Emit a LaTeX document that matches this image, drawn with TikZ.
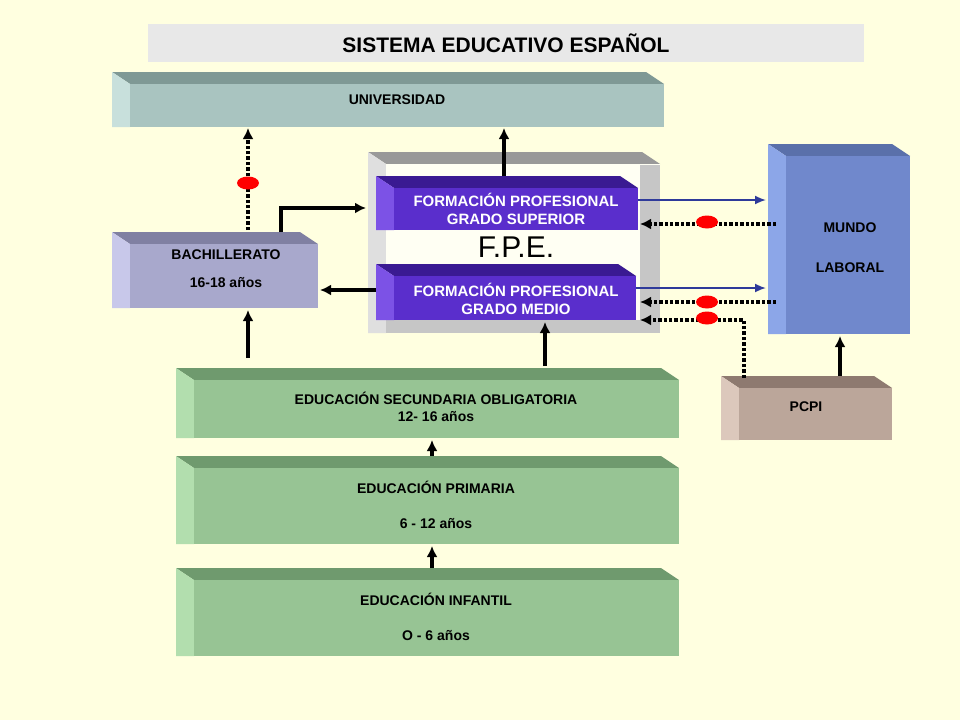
\documentclass[tikz,border=0pt]{standalone}
\usepackage{fontspec}
\setmainfont{Liberation Sans}
\usetikzlibrary{positioning, arrows.meta, shapes.geometric}

\definecolor{fondo}{HTML}{FFFFE0}
\definecolor{uniF}{HTML}{A9C4C0}\definecolor{uniT}{HTML}{7F9995}\definecolor{uniL}{HTML}{C8E0DC}
\definecolor{bacF}{HTML}{A8A8CC}\definecolor{bacT}{HTML}{8080A2}\definecolor{bacL}{HTML}{C8C8EA}
\definecolor{fpF}{HTML}{5A2ECC}\definecolor{fpT}{HTML}{3A1A92}\definecolor{fpL}{HTML}{7C52E6}
\definecolor{munF}{HTML}{7088CC}\definecolor{munT}{HTML}{5A70AA}\definecolor{munL}{HTML}{8CA6E8}
\definecolor{verF}{HTML}{97C494}\definecolor{verT}{HTML}{6F9A6E}\definecolor{verL}{HTML}{B2DEAE}
\definecolor{pcpF}{HTML}{BBA69A}\definecolor{pcpT}{HTML}{8E7A70}\definecolor{pcpL}{HTML}{DCC8BC}
\definecolor{flujo}{HTML}{2E3A9A}

% slab: x0,y0,x1,y1,front,top,left
\newcommand{\slab}[7]{%
  \fill[#6] (#1,#2) -- (#3-18,#2) -- (#3,#2+12) -- (#1+18,#2+12) -- cycle;
  \fill[#7] (#1,#2) -- (#1+18,#2+12) -- (#1+18,#4) -- (#1,#4) -- cycle;
  \fill[#5] (#1+18,#2+12) rectangle (#3,#4);
}

\tikzset{
  label/.style={font=\fontsize{14}{16}\selectfont\bfseries, align=center},
  fplabel/.style={label, text=white, font=\fontsize{15}{18}\selectfont\bfseries},
  paso/.style={line width=3.4pt, -{Latex[length=11pt,width=11pt]}},
  puerta/.style={line width=3.4pt, dotted, -{Latex[length=11pt,width=11pt]}},
  salida/.style={line width=1.8pt, flujo, -{Latex[length=11pt,width=9pt]}},
  nota/.style={fill=red, ellipse, minimum width=22pt, minimum height=13pt, inner sep=0pt}
}

\begin{document}
\begin{tikzpicture}[x=1pt, y=-1pt]
  \useasboundingbox (0,0) rectangle (960,720);
  \fill[fondo] (0,0) rectangle (960,720);

  % titulo
  \fill[gray!18] (148,24) rectangle (864,62);
  \node[font=\fontsize{21}{24}\selectfont\bfseries] (titulo) at (506,43) {SISTEMA EDUCATIVO ESPAÑOL};

  % bloques
  \slab{112}{72}{664}{127}{uniF}{uniT}{uniL}
  \node[label] (uni) at (397,100) {UNIVERSIDAD};

  \slab{112}{232}{318}{308}{bacF}{bacT}{bacL}
  \node[label] (bach) at (226,255) {BACHILLERATO};
  \node[label] (bachedad) at (226,283) {16-18 años};

  % contenedor F.P.E.
  \slab{368}{152}{660}{333}{fondo!40!white}{gray!80}{gray!25}
  \fill[gray!45] (640,165) rectangle (660,333);
  \fill[gray!45] (386,320) rectangle (660,333);
  \node[font=\fontsize{30}{34}\selectfont] (fpe) at (516,247) {F.P.E.};

  \slab{376}{176}{638}{230}{fpF}{fpT}{fpL}
  \node[fplabel] (gs) at (516,209) {FORMACIÓN PROFESIONAL\\GRADO SUPERIOR};
  \slab{376}{264}{636}{320}{fpF}{fpT}{fpL}
  \node[fplabel] (gm) at (516,299) {FORMACIÓN PROFESIONAL\\GRADO MEDIO};

  \slab{768}{144}{910}{334}{munF}{munT}{munL}
  \node[label] (mundo) at (850,228) {MUNDO};
  \node[label] (laboral) at (850,268) {LABORAL};

  \slab{176}{368}{679}{438}{verF}{verT}{verL}
  \node[label] (eso) at (436,398) {EDUCACIÓN SECUNDARIA OBLIGATORIA};
  \node[label] (esoedad) at (436,417) {12- 16 años};

  \slab{176}{456}{679}{544}{verF}{verT}{verL}
  \node[label] (prim) at (436,487) {EDUCACIÓN PRIMARIA};
  \node[label] (primedad) at (436,524) {6 - 12 años};

  \slab{176}{568}{679}{656}{verF}{verT}{verL}
  \node[label] (inf) at (436,599) {EDUCACIÓN INFANTIL};
  \node[label] (infedad) at (436,636) {O - 6  años};

  \slab{721}{376}{892}{440}{pcpF}{pcpT}{pcpL}
  \node[label] (pcpi) at (806,407) {PCPI};

  % puntos de anclaje
  \coordinate (esoA) at (248,358);   \coordinate (bachB) at (248,310);
  \coordinate (bachT) at (248,230);  \coordinate (uniB) at (248,128);
  \coordinate (bachS) at (281,232);  \coordinate (gsW) at (366,208);
  \coordinate (gmW) at (376,290);    \coordinate (bachE) at (320,290);
  \coordinate (gsN) at (504,176);    \coordinate (uniC) at (504,128);
  \coordinate (esoB) at (545,366);   \coordinate (gmS) at (545,322);
  \coordinate (primN) at (432,456);  \coordinate (esoS) at (432,440);
  \coordinate (infN) at (432,568);   \coordinate (primS) at (432,546);
  \coordinate (pcpiN) at (840,376);  \coordinate (mundoS) at (840,336);
  \coordinate (gsE) at (638,200);    \coordinate (mundoA) at (766,200);
  \coordinate (gmE) at (636,288);    \coordinate (mundoB) at (766,288);
  \coordinate (mundoC) at (776,224); \coordinate (gsR) at (640,224);
  \coordinate (mundoD) at (776,302); \coordinate (gmR) at (640,302);
  \coordinate (pcpiS) at (744,378);  \coordinate (gmQ) at (640,320);

  % conexiones
  \draw[paso] (esoA) -- (bachB);
  \draw[puerta] (bachT) -- (uniB);
  \draw[paso] (bachS) |- (gsW);
  \draw[paso] (gmW) -- (bachE);
  \draw[paso] (gsN) -- (uniC);
  \draw[paso] (esoB) -- (gmS);
  \draw[paso] (primN) -- (esoS);
  \draw[paso] (infN) -- (primS);
  \draw[paso] (pcpiN) -- (mundoS);
  \draw[salida] (gsE) -- (mundoA);
  \draw[salida] (gmE) -- (mundoB);
  \draw[puerta] (mundoC) -- (gsR);
  \draw[puerta] (mundoD) -- (gmR);
  \draw[puerta] (pcpiS) |- (gmQ);

  % pruebas de acceso
  \node[nota] (p1) at (248,183) {};
  \node[nota] (p2) at (707,222) {};
  \node[nota] (p3) at (707,302) {};
  \node[nota] (p4) at (707,318) {};
\end{tikzpicture}
\end{document}
